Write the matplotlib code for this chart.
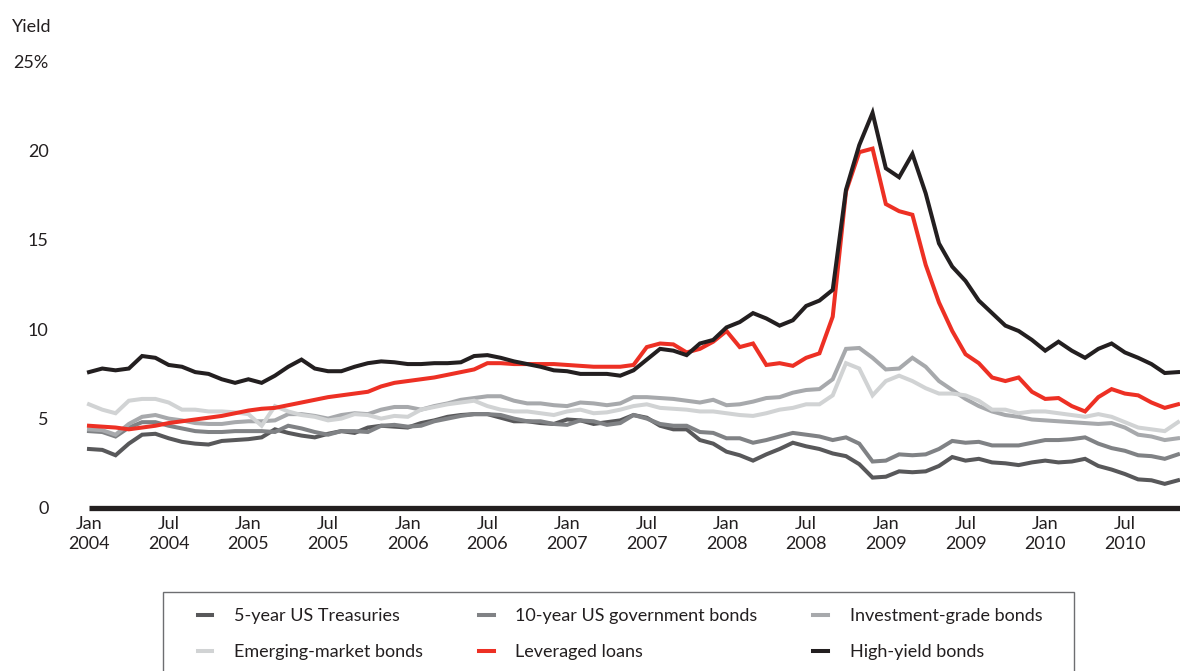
import numpy as np
import matplotlib.pyplot as plt
from matplotlib.patches import Rectangle

plt.rcParams['font.family'] = ['Lato', 'DejaVu Sans']

# monthly yields, Jan 2004 - Nov 2010 (in %)
treasury_5y = [3.3, 3.25, 2.95, 3.6, 4.1, 4.15, 3.9, 3.7, 3.6, 3.55, 3.75, 3.8,
               3.85, 3.95, 4.4, 4.2, 4.05, 3.95, 4.15, 4.3, 4.2, 4.5, 4.6, 4.55,
               4.5, 4.75, 4.9, 5.1, 5.2, 5.25, 5.25, 5.05, 4.85, 4.85, 4.75, 4.7,
               4.95, 4.9, 4.7, 4.8, 4.9, 5.2, 5.05, 4.6, 4.4, 4.4, 3.8, 3.6,
               3.15, 2.95, 2.65, 3.0, 3.3, 3.65, 3.45, 3.3, 3.05, 2.9, 2.45, 1.7,
               1.75, 2.05, 2.0, 2.05, 2.35, 2.85, 2.65, 2.75, 2.55, 2.5, 2.4, 2.55,
               2.65, 2.55, 2.6, 2.75, 2.35, 2.15, 1.9, 1.6, 1.55, 1.35, 1.55]
govt_10y = [4.3, 4.25, 4.0, 4.5, 4.8, 4.8, 4.6, 4.45, 4.3, 4.25, 4.25, 4.3,
            4.3, 4.3, 4.25, 4.6, 4.45, 4.25, 4.1, 4.3, 4.3, 4.25, 4.6, 4.65,
            4.55, 4.6, 4.85, 5.0, 5.15, 5.25, 5.25, 5.2, 5.0, 4.85, 4.85, 4.7,
            4.65, 4.9, 4.85, 4.65, 4.75, 5.2, 5.0, 4.7, 4.6, 4.6, 4.25, 4.2,
            3.9, 3.9, 3.65, 3.8, 4.0, 4.2, 4.1, 4.0, 3.8, 3.95, 3.6, 2.6,
            2.65, 3.0, 2.95, 3.0, 3.3, 3.75, 3.65, 3.7, 3.5, 3.5, 3.5, 3.65,
            3.8, 3.8, 3.85, 3.95, 3.6, 3.35, 3.2, 2.95, 2.9, 2.75, 3.0]
inv_grade = [4.4, 4.35, 4.1, 4.7, 5.1, 5.2, 5.0, 4.9, 4.75, 4.7, 4.7, 4.8,
             4.85, 4.85, 4.9, 5.25, 5.25, 5.15, 5.0, 5.2, 5.3, 5.25, 5.5, 5.65,
             5.65, 5.5, 5.7, 5.85, 6.05, 6.15, 6.25, 6.25, 6.0, 5.85, 5.85, 5.75,
             5.7, 5.9, 5.85, 5.75, 5.85, 6.2, 6.2, 6.15, 6.1, 6.0, 5.9, 6.05,
             5.75, 5.8, 5.95, 6.15, 6.2, 6.45, 6.6, 6.65, 7.2, 8.9, 8.95, 8.4,
             7.75, 7.8, 8.4, 7.9, 7.1, 6.6, 6.1, 5.7, 5.4, 5.2, 5.1, 4.95,
             4.9, 4.85, 4.8, 4.75, 4.7, 4.75, 4.5, 4.1, 4.0, 3.8, 3.9]
emerging = [5.8, 5.5, 5.3, 6.0, 6.1, 6.1, 5.9, 5.5, 5.5, 5.4, 5.4, 5.35,
            5.25, 4.6, 5.7, 5.4, 5.2, 5.1, 4.9, 5.0, 5.25, 5.2, 5.0, 5.15,
            5.1, 5.5, 5.65, 5.8, 5.9, 6.0, 5.7, 5.5, 5.4, 5.4, 5.3, 5.2,
            5.4, 5.5, 5.3, 5.35, 5.5, 5.7, 5.8, 5.6, 5.55, 5.5, 5.4, 5.4,
            5.3, 5.2, 5.15, 5.3, 5.5, 5.6, 5.8, 5.8, 6.3, 8.1, 7.8, 6.3,
            7.1, 7.4, 7.1, 6.7, 6.4, 6.4, 6.3, 6.0, 5.5, 5.5, 5.3, 5.4,
            5.4, 5.3, 5.2, 5.1, 5.25, 5.1, 4.8, 4.5, 4.4, 4.3, 4.8]
lev_loans = [4.6, 4.55, 4.5, 4.4, 4.5, 4.6, 4.75, 4.85, 4.95, 5.05, 5.15, 5.3,
             5.45, 5.55, 5.6, 5.75, 5.9, 6.05, 6.2, 6.3, 6.4, 6.5, 6.8, 7.0,
             7.1, 7.2, 7.3, 7.45, 7.6, 7.75, 8.1, 8.1, 8.05, 8.05, 8.05, 8.05,
             8.0, 7.95, 7.9, 7.9, 7.9, 8.0, 9.0, 9.2, 9.15, 8.7, 8.9, 9.3,
             9.9, 9.0, 9.2, 8.0, 8.1, 7.95, 8.4, 8.65, 10.7, 17.7, 19.9, 20.1,
             17.0, 16.6, 16.4, 13.6, 11.5, 9.9, 8.6, 8.1, 7.3, 7.1, 7.3, 6.5,
             6.1, 6.15, 5.7, 5.4, 6.2, 6.65, 6.4, 6.3, 5.9, 5.6, 5.8]
high_yield = [7.6, 7.8, 7.7, 7.8, 8.5, 8.4, 8.0, 7.9, 7.6, 7.5, 7.2, 7.0,
              7.2, 7.0, 7.4, 7.9, 8.3, 7.8, 7.65, 7.65, 7.9, 8.1, 8.2, 8.15,
              8.05, 8.05, 8.1, 8.1, 8.15, 8.5, 8.55, 8.4, 8.2, 8.05, 7.9, 7.7,
              7.65, 7.5, 7.5, 7.5, 7.4, 7.7, 8.3, 8.9, 8.8, 8.55, 9.2, 9.4,
              10.1, 10.4, 10.9, 10.6, 10.2, 10.5, 11.3, 11.6, 12.2, 17.8, 20.3, 22.1,
              19.0, 18.5, 19.8, 17.6, 14.8, 13.5, 12.7, 11.6, 10.9, 10.2, 9.9, 9.4,
              8.8, 9.3, 8.8, 8.4, 8.9, 9.2, 8.7, 8.4, 8.05, 7.55, 7.6]

series_names = ['5-year US Treasuries', '10-year US government bonds',
                'Investment-grade bonds', 'Emerging-market bonds',
                'Leveraged loans', 'High-yield bonds']
series = [treasury_5y, govt_10y, inv_grade, emerging, lev_loans, high_yield]
colors = ['#58585a', '#808285', '#a7a9ac', '#d1d3d4', '#ed3024', '#231f20']

tick_months = list(range(0, 79, 6))
tick_labels = [('Jan' if m % 12 == 0 else 'Jul') + '\n' + str(2004 + m // 12)
               for m in tick_months]
y_ticks = [0, 5, 10, 15, 20, 25]
y_labels = ['0', '5', '10', '15', '20', '25%']

W, H = 1180, 671
fig = plt.figure(figsize=(W / 100, H / 100), dpi=100)
ax = fig.add_axes([89 / W, (H - 508) / H, (W - 89) / W, 447 / H])

months = np.arange(len(high_yield))
handles = []
for vals, name, c in zip(series, series_names, colors):
    ln, = ax.plot(months, vals, color=c, lw=2.9, label=name,
                  solid_joinstyle='miter', clip_on=False)
    handles.append(ln)

ax.set_xlim(0, 82.15)
ax.set_ylim(0, 25)
for s in ['top', 'right', 'left']:
    ax.spines[s].set_visible(False)
ax.spines['bottom'].set_linewidth(3.8)
ax.spines['bottom'].set_color('#231f20')
ax.spines['bottom'].set_capstyle('butt')

ax.set_xticks(tick_months)
ax.set_xticklabels(tick_labels, linespacing=1.25)
ax.set_yticks(y_ticks)
ax.set_yticklabels(y_labels, ha='right')
ax.tick_params(axis='x', length=0, pad=6, labelsize=13, labelcolor='#231f20')
ax.tick_params(axis='y', length=0, pad=29, labelsize=13, labelcolor='#231f20')

fig.text(12 / W, 1 - 27 / H, 'Yield', ha='left', va='center', fontsize=13,
         color='#231f20')

# legend box
fig.patches.append(Rectangle((163 / W, 1 - 700 / H), (1074 - 163) / W, 108 / H,
                             transform=fig.transFigure, fill=False,
                             edgecolor='#6d6e71', lw=1))
order = [0, 3, 1, 4, 2, 5]
fig.legend([handles[i] for i in order], [series_names[i] for i in order],
           ncol=3, frameon=False, loc='upper left',
           bbox_to_anchor=(198 / W, 1 - 608 / H), borderpad=0,
           borderaxespad=0, handlelength=0.8, handletextpad=1.2,
           columnspacing=3.1, labelspacing=1.12, fontsize=13,
           labelcolor='#231f20')

fig.savefig('out.png', dpi=100)
